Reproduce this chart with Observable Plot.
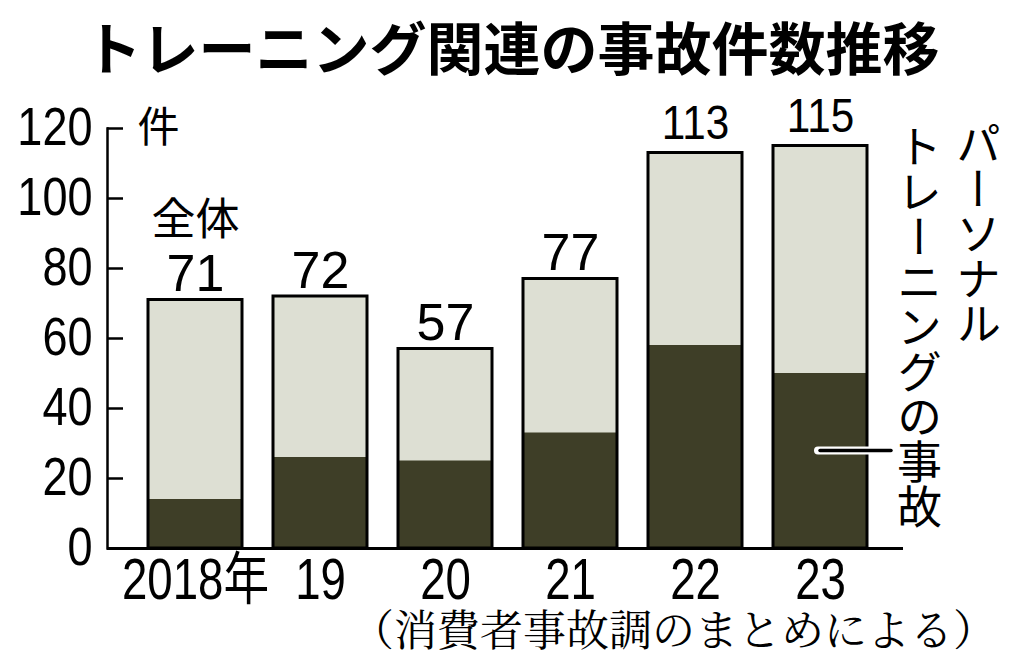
<!DOCTYPE html>
<html><head><meta charset="utf-8">
<script src="https://cdn.jsdelivr.net/npm/d3@7"></script>
<script src="https://cdn.jsdelivr.net/npm/@observablehq/plot@0.6"></script>
<style>
body{margin:0;background:#fff;width:1024px;height:666px;overflow:hidden;position:relative;font-family:"Noto Sans CJK JP",sans-serif;}
#title{height:90px;line-height:90px;font-size:57px;font-weight:700;text-align:center;color:#000;}
#caption{position:absolute;top:606px;right:28px;font-size:43px;line-height:44px;font-family:"Noto Serif CJK JP","Noto Sans CJK JP",serif;color:#000;}
</style></head><body>
<div id="title">トレーニング関連の事故件数推移</div>
<div id="chart"></div>
<div id="caption">（消費者事故調のまとめによる）</div>
<script>
const years = ["2018", "19", "20", "21", "22", "23"];
const totals = [71, 72, 57, 77, 113, 115];
const personal = [14, 26, 25, 33, 58, 50];
const yTicks = [0, 20, 40, 60, 80, 100, 120];
const unitLabel = "件";
const totalLabel = "全体";
const seriesLabels = ["パーソナル", "トレーニングの事故"];
const leader = [{year: "23", value: 28}];

const data = years.map((y, i) => ({year: y, total: totals[i], personal: personal[i]}));
const numFont = '"Liberation Sans",Arial,"Noto Sans CJK JP",sans-serif';
const cjkFont = '"Noto Sans CJK JP",sans-serif';

const chart = Plot.plot({
  width: 1024, height: 520,
  marginLeft: 107, marginRight: 121, marginTop: 38, marginBottom: 62,
  style: {background: "white", color: "black", fontFamily: cjkFont, overflow: "visible"},
  x: {type: "band", domain: years, paddingInner: 0.248, paddingOuter: 0.328, insetRight: -5, label: null},
  y: {domain: [0, 120], label: null},
  marks: [
    Plot.barY(data, {x: "year", y: "total", fill: "#dddfd3"}),
    Plot.barY(data, {x: "year", y: "personal", fill: "#3e3e27"}),
    Plot.barY(data, {x: "year", y: "total", fill: "none", stroke: "black", strokeWidth: 3}),
    Plot.frame({anchor: "left", strokeWidth: 2.5}),
    Plot.ruleY([0], {strokeWidth: 3}),
    Plot.axisY(yTicks, {tickSize: -16, tickFormat: () => "", strokeWidth: 2.5, label: null}),
    Plot.axisY(yTicks, {tickSize: 0, tickPadding: 15, fontSize: 53, fontFamily: numFont, label: null}),
    Plot.axisX({tickSize: 0, tickPadding: 10, fontSize: 57, fontFamily: numFont, label: null,
      tickFormat: d => d === years[0] ? d + "年" : d}),
    Plot.text(data.filter(d => d.total < 100), {x: "year", y: "total", text: d => String(d.total), lineAnchor: "bottom", dy: -9,
      fontSize: 52, fontFamily: numFont}),
    Plot.text(data.filter(d => d.total >= 100), {x: "year", y: "total", text: d => String(d.total), lineAnchor: "bottom", dy: -14,
      fontSize: 48, fontFamily: numFont}),
    Plot.text([totalLabel], {x: () => years[0], y: () => totals[0], text: d => d, lineAnchor: "bottom", dy: -65, fontSize: 44}),
    Plot.text([unitLabel], {frameAnchor: "top-left", text: d => d, dx: 30, textAnchor: "start", lineAnchor: "middle", fontSize: 42}),
    Plot.tickY(leader, {x: "year", y: "value", stroke: "white", strokeWidth: 8, strokeLinecap: "round", insetLeft: 45, insetRight: -24}),
    Plot.tickY(leader, {x: "year", y: "value", stroke: "black", strokeWidth: 3.5, strokeLinecap: "round", insetLeft: 47, insetRight: -24}),
    Plot.text([seriesLabels[0]], {frameAnchor: "top-right", text: d => d, dx: 75, dy: -7, textAnchor: "start", lineAnchor: "bottom", fontSize: 45}),
    Plot.text([seriesLabels[1]], {frameAnchor: "top-right", text: d => d, dx: 16, dy: -4, textAnchor: "start", lineAnchor: "bottom", fontSize: 45})
  ]
});
const root = d3.select(chart);
root.selectAll("text").each(function() {
  if (seriesLabels.includes(this.textContent)) {
    this.style.writingMode = "vertical-rl";
    this.setAttribute("writing-mode", "vertical-rl");
  }
});
function squeeze(sel, k) {
  sel.each(function() {
    const t = this.getAttribute("transform") || "";
    this.setAttribute("transform", t + ` scale(${k},1)`);
  });
}
squeeze(root.selectAll('g[aria-label="y-axis tick label"] text'), 0.85);
squeeze(root.selectAll('g[aria-label="x-axis tick label"] text'), 0.8);
squeeze(root.selectAll("text").filter(function() { return ["113", "115"].includes(this.textContent); }), 0.88);
document.getElementById("chart").appendChild(chart);
</script>
</body></html>
